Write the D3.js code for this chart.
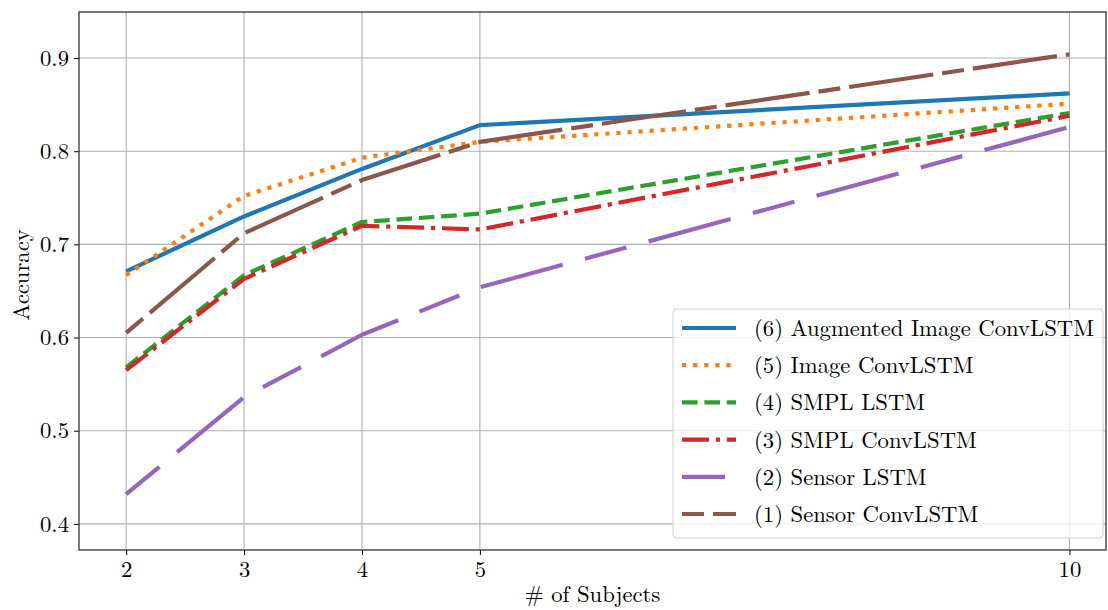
<!DOCTYPE html>
<html lang="en">
<head>
    <meta charset="UTF-8">
    <script src="https://cdnjs.cloudflare.com/ajax/libs/d3/7.8.5/d3.min.js"></script>
    <title>Accuracy vs # of Subjects</title>
    <style>
        body { margin: 0; background: #fff; }
        svg text { font-family: "Latin Modern Roman", "CMU Serif", "Liberation Serif", serif; fill: #000; }
    </style>
</head>
<body>
    <svg id="chart" width="1108" height="610"></svg>
    <script>
        // data
        var subjects = [2, 3, 4, 5, 10];
        var augImageConvLstm = [0.671, 0.730, 0.781, 0.828, 0.862];
        var imageConvLstm = [0.667, 0.752, 0.793, 0.810, 0.851];
        var smplLstm = [0.568, 0.667, 0.724, 0.733, 0.841];
        var smplConvLstm = [0.565, 0.663, 0.720, 0.716, 0.838];
        var sensorLstm = [0.432, 0.536, 0.603, 0.654, 0.826];
        var sensorConvLstm = [0.605, 0.712, 0.769, 0.810, 0.904];
        var seriesNames = ["(6) Augmented Image ConvLSTM", "(5) Image ConvLSTM", "(4) SMPL LSTM",
            "(3) SMPL ConvLSTM", "(2) Sensor LSTM", "(1) Sensor ConvLSTM"];
        var yTicks = [0.4, 0.5, 0.6, 0.7, 0.8, 0.9];

        var series = [
            { name: seriesNames[0], values: augImageConvLstm, color: "#1f77b4", dash: null },
            { name: seriesNames[1], values: imageConvLstm, color: "#ff7f0e", dash: "4.2,6.9" },
            { name: seriesNames[2], values: smplLstm, color: "#2ca02c", dash: "15.6,6.8" },
            { name: seriesNames[3], values: smplConvLstm, color: "#d62728", dash: "27,6.8,4.2,6.8" },
            { name: seriesNames[4], values: sensorLstm, color: "#9467bd", dash: "43,23,85,23" },
            { name: seriesNames[5], values: sensorConvLstm, color: "#8c564b", dash: "22,9,85,9" }
        ];

        var fontSize = "22.7px";
        var margin = { left: 79, top: 12, right: 2, bottom: 60 };
        var width = 1108 - margin.left - margin.right;
        var height = 610 - margin.top - margin.bottom;

        var svg = d3.select("#chart");
        var g = svg.append("g").attr("transform", "translate(" + margin.left + "," + margin.top + ")");

        var xScale = d3.scaleLinear().domain([1.6, 10.31]).range([0, width]);
        var yScale = d3.scaleLinear().domain([0.372, 0.9494]).range([height, 0]);

        // grid
        g.append("g").selectAll("line.vgrid")
            .data(subjects).enter().append("line")
            .attr("x1", d => xScale(d)).attr("x2", d => xScale(d))
            .attr("y1", 0).attr("y2", height)
            .style("stroke", "#b0b0b0").style("stroke-width", 1.1);
        g.append("g").selectAll("line.hgrid")
            .data(yTicks).enter().append("line")
            .attr("x1", 0).attr("x2", width)
            .attr("y1", d => yScale(d)).attr("y2", d => yScale(d))
            .style("stroke", "#b0b0b0").style("stroke-width", 1.1);

        // axes
        var xAxis = d3.axisBottom(xScale).tickValues(subjects).tickSize(5).tickPadding(6).tickFormat(d3.format("d"));
        var yAxis = d3.axisLeft(yScale).tickValues(yTicks).tickSize(5).tickPadding(5).tickFormat(d3.format(".1f"));

        var xg = g.append("g").attr("transform", "translate(0," + height + ")").call(xAxis);
        var yg = g.append("g").call(yAxis);
        [xg, yg].forEach(function (a) {
            a.select(".domain").remove();
            a.selectAll("line").style("stroke", "#000").style("stroke-width", 1);
            a.selectAll("text").style("font-size", fontSize).style("font-family", null);
        });

        // lines
        var line = d3.line()
            .x((d, i) => xScale(subjects[i]))
            .y(d => yScale(d));

        g.selectAll("path.series")
            .data(series).enter().append("path")
            .attr("class", "series")
            .attr("d", d => line(d.values))
            .style("fill", "none")
            .style("stroke", d => d.color)
            .style("stroke-width", 4.2)
            .style("stroke-linejoin", "round")
            .style("stroke-dasharray", d => d.dash);

        // frame
        g.append("rect")
            .attr("width", width).attr("height", height)
            .style("fill", "none").style("stroke", "#222").style("stroke-width", 1.2);

        // legend
        var legend = g.append("g").attr("transform", "translate(" + (673 - margin.left) + "," + (309 - margin.top) + ")");
        legend.append("rect")
            .attr("width", 430).attr("height", 229).attr("rx", 4)
            .style("fill", "rgba(255,255,255,0.8)").style("stroke", "#d0d0d0").style("stroke-width", 1);
        var rows = legend.selectAll("g.row")
            .data(series).enter().append("g")
            .attr("transform", (d, i) => "translate(0," + (19 + i * 37.2) + ")");
        rows.append("line")
            .attr("x1", 9).attr("x2", 63).attr("y1", 0).attr("y2", 0)
            .style("stroke", d => d.color)
            .style("stroke-width", 4.2)
            .style("stroke-dasharray", d => d.dash);
        rows.append("text")
            .attr("x", 81).attr("y", 8)
            .style("font-size", fontSize)
            .text(d => d.name);

        // axis titles
        g.append("text")
            .attr("x", width / 2).attr("y", height + 52)
            .attr("text-anchor", "middle")
            .style("font-size", fontSize)
            .text("# of Subjects");
        g.append("text")
            .attr("transform", "translate(" + (-50) + "," + (height / 2 - 6) + ") rotate(-90)")
            .attr("text-anchor", "middle")
            .style("font-size", fontSize)
            .text("Accuracy");
    </script>
</body>
</html>
